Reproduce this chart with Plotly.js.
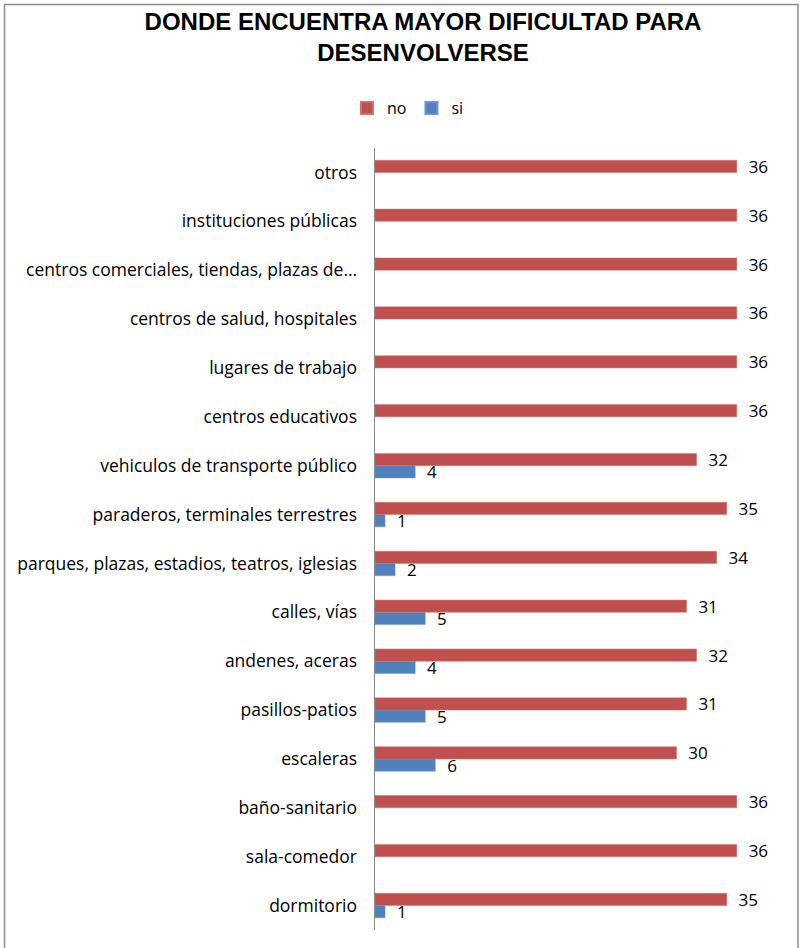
<!DOCTYPE html>
<html>
<head>
<meta charset="utf-8">
<script src="https://cdn.plot.ly/plotly-3.0.1.min.js"></script>
<style>html,body{margin:0;padding:0;background:#fff;}#chart{width:801px;height:948px;}</style>
</head>
<body>
<div id="chart"></div>
<script>
const categories = [
  "dormitorio",
  "sala-comedor",
  "baño-sanitario",
  "escaleras",
  "pasillos-patios",
  "andenes, aceras",
  "calles, vías",
  "parques, plazas, estadios, teatros, iglesias",
  "paraderos, terminales terrestres",
  "vehiculos de transporte público",
  "centros educativos",
  "lugares de trabajo",
  "centros de salud, hospitales",
  "centros comerciales, tiendas, plazas de…",
  "instituciones públicas",
  "otros"
];
const noValues = [35, 36, 36, 30, 31, 32, 31, 34, 35, 32, 36, 36, 36, 36, 36, 36];
const siValues = [1, null, null, 6, 5, 4, 5, 2, 1, 4, null, null, null, null, null, null];

const L = 375, R = 777, T = 148, B = 930, W = 801, H = 948;
const pw = R - L, ph = B - T;
const px = v => (v - L) / pw;
const py = v => (B - v) / ph;
const FONT = '"Open Sans", "Noto Sans", sans-serif';

const common = {
  type: 'bar', orientation: 'h', y: categories,
  textposition: 'outside', constraintext: 'none', cliponaxis: false,
  textfont: {family: FONT, size: 17, color: '#000'},
  hoverinfo: 'x+y'
};

const traces = [
  Object.assign({}, common, {
    name: 'si', x: siValues, text: siValues.map(v => v == null ? '' : '  ' + v),
    marker: {color: '#4F81BD', line: {color: '#6f97c9', width: 0.5}}
  }),
  Object.assign({}, common, {
    name: 'no', x: noValues, text: noValues.map(v => '  ' + v),
    marker: {color: '#C0504D', line: {color: '#d27370', width: 0.5}}
  })
];

const layout = {
  width: W, height: H,
  margin: {l: L, r: W - R, t: T, b: H - B, pad: 0},
  paper_bgcolor: '#fff', plot_bgcolor: '#fff',
  barmode: 'group', bargap: 0.5, bargroupgap: 0,
  title: {
    text: 'DONDE ENCUENTRA MAYOR DIFICULTAD PARA<br>DESENVOLVERSE',
    font: {family: '"Liberation Sans", Arial, sans-serif', size: 24, color: '#000', weight: 'bold'},
    x: 423 / W, xref: 'container', xanchor: 'center',
    y: 1 - 30 / H, yref: 'container', yanchor: 'top'
  },
  showlegend: true,
  legend: {
    orientation: 'h', traceorder: 'reversed',
    x: px(408), xanchor: 'center', y: py(108), yanchor: 'middle',
    font: {family: FONT, size: 16, color: '#000'},
    itemwidth: 30, itemsizing: 'constant'
  },
  xaxis: {
    range: [0, 40], visible: false, showgrid: false, zeroline: false, fixedrange: true
  },
  yaxis: {
    type: 'category', showline: true, linecolor: '#868686', linewidth: 1.5,
    ticks: '', showgrid: false, zeroline: false, ticklabelstandoff: 13,
    tickfont: {family: FONT, size: 17.5, color: '#000'},
    automargin: false
  },
  shapes: [{
    type: 'rect', xref: 'paper', yref: 'paper',
    x0: px(4.5), x1: px(798), y0: py(960), y1: py(4.5),
    line: {color: '#8c8c8c', width: 1.5}, fillcolor: 'rgba(0,0,0,0)', layer: 'below'
  }]
};

Plotly.newPlot('chart', traces, layout, {displayModeBar: false, staticPlot: true});
</script>
</body>
</html>
